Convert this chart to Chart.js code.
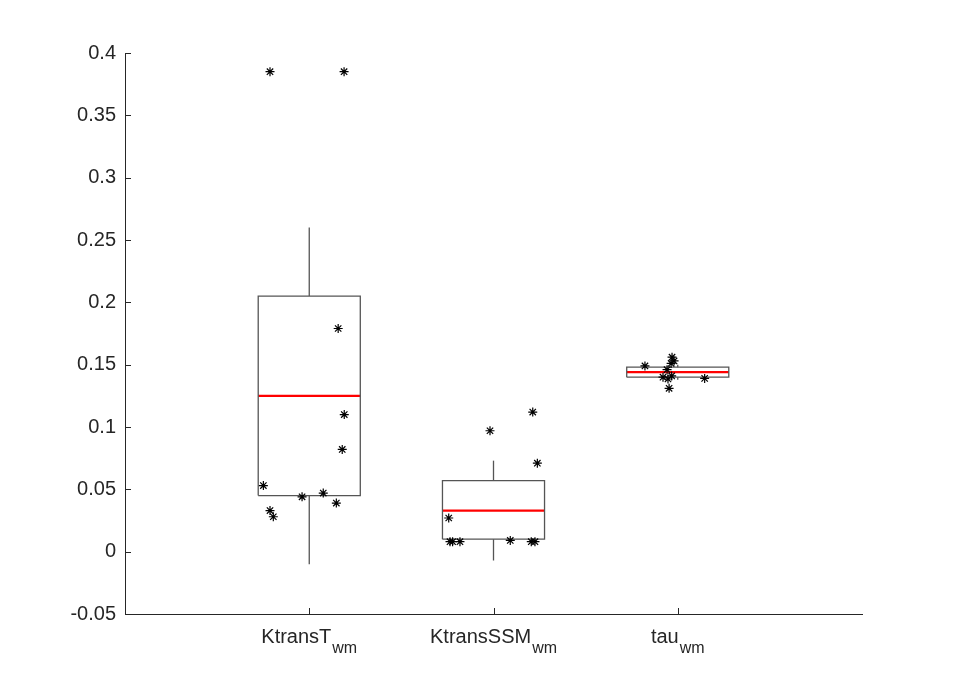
<!DOCTYPE html>
<html>
<head>
<meta charset="utf-8">
<style>
  html, body { margin: 0; padding: 0; background: #fff; }
  #wrap { width: 955px; height: 690px; }
</style>
<script src="https://cdn.jsdelivr.net/npm/chart.js@4"></script>
</head>
<body>
<div id="wrap"><canvas id="boxChart"></canvas></div>
<script>
// categories and labels
const categories = ['KtransT', 'KtransSSM', 'tau'];
const subscripts = ['wm', 'wm', 'wm'];
const categoryPos = [1, 2, 3];

// box statistics
const whiskerLow = [-0.010, -0.007, 0.138];
const q1 = [0.045, 0.010, 0.140];
const medians = [0.125, 0.033, 0.144];
const q3 = [0.205, 0.057, 0.148];
const whiskerHigh = [0.260, 0.073, 0.150];

// jittered raw points
const ktransTX = [0.787, 1.189, 1.157, 1.190, 1.179, 0.751, 0.961, 1.076, 1.147, 0.787, 0.805];
const ktransTY = [0.385, 0.385, 0.179, 0.110, 0.082, 0.053, 0.044, 0.047, 0.039, 0.033, 0.028];
const ktransSSMX = [2.213, 1.981, 2.238, 1.757, 1.764, 1.778, 1.818, 2.091, 2.205, 2.225];
const ktransSSMY = [0.112, 0.097, 0.071, 0.027, 0.008, 0.008, 0.008, 0.009, 0.008, 0.008];
const tauX = [2.822, 2.969, 2.980, 2.964, 2.942, 2.967, 2.920, 2.947, 2.953, 3.146];
const tauY = [0.149, 0.156, 0.153, 0.151, 0.146, 0.141, 0.140, 0.1385, 0.131, 0.139];

const yTicks = [-0.05, 0, 0.05, 0.1, 0.15, 0.2, 0.25, 0.3, 0.35, 0.4];

const halfWidth = 0.277;
const boxColor = '#555555';
const axisColor = '#262626';
const FONT = "'Liberation Sans', Arial, sans-serif";

const toPoints = (xs, ys) => xs.map((x, i) => ({ x, y: ys[i] }));
const allPoints = [
    ...toPoints(ktransTX, ktransTY),
    ...toPoints(ktransSSMX, ktransSSMY),
    ...toPoints(tauX, tauY),
];

const lineDs = (data, color, width) => ({
    type: 'scatter',
    data,
    showLine: true,
    borderColor: color,
    borderWidth: width,
    pointRadius: 0,
    pointHoverRadius: 0,
    fill: false,
    order: 1,
});

const datasets = [{
    type: 'scatter',
    label: 'points',
    data: allPoints,
    pointStyle: 'star',
    pointRadius: 4.5,
    borderColor: '#000',
    backgroundColor: '#000',
    borderWidth: 1.2,
    order: 0,
}];

categoryPos.forEach((c, i) => {
    // box outline
    datasets.push(lineDs([
        { x: c - halfWidth, y: q1[i] }, { x: c + halfWidth, y: q1[i] },
        { x: c + halfWidth, y: q3[i] }, { x: c - halfWidth, y: q3[i] },
        { x: c - halfWidth, y: q1[i] },
    ], boxColor, 1.3));
    // whiskers
    datasets.push(lineDs([{ x: c, y: q3[i] }, { x: c, y: whiskerHigh[i] }], boxColor, 1.3));
    datasets.push(lineDs([{ x: c, y: q1[i] }, { x: c, y: whiskerLow[i] }], boxColor, 1.3));
    // median
    datasets.push(lineDs([{ x: c - halfWidth, y: medians[i] }, { x: c + halfWidth, y: medians[i] }], '#ff0000', 2.2));
});

// inward ticks and subscripted category labels
const axisExtras = {
    id: 'axisExtras',
    afterDraw(chart) {
        const { ctx, chartArea, scales } = chart;
        ctx.save();
        ctx.strokeStyle = axisColor;
        ctx.lineWidth = 1;
        ctx.beginPath();
        yTicks.forEach(v => {
            const y = Math.round(scales.y.getPixelForValue(v)) + 0.5;
            ctx.moveTo(chartArea.left, y);
            ctx.lineTo(chartArea.left + 6, y);
        });
        categoryPos.forEach(c => {
            const x = Math.round(scales.x.getPixelForValue(c)) + 0.5;
            ctx.moveTo(x, chartArea.bottom);
            ctx.lineTo(x, chartArea.bottom - 6);
        });
        ctx.stroke();

        ctx.fillStyle = axisColor;
        ctx.textBaseline = 'alphabetic';
        ctx.textAlign = 'left';
        categories.forEach((name, i) => {
            const cx = scales.x.getPixelForValue(categoryPos[i]);
            ctx.font = '20px ' + FONT;
            const mw = ctx.measureText(name).width;
            ctx.font = '16px ' + FONT;
            const sw = ctx.measureText(subscripts[i]).width;
            const start = cx - (mw + 1 + sw) / 2;
            ctx.font = '20px ' + FONT;
            ctx.fillText(name, start, chartArea.bottom + 29);
            ctx.font = '16px ' + FONT;
            ctx.fillText(subscripts[i], start + mw + 1, chartArea.bottom + 39);
        });
        ctx.restore();
    },
};

new Chart(document.getElementById('boxChart'), {
    type: 'scatter',
    data: { datasets },
    options: {
        responsive: true,
        maintainAspectRatio: false,
        animation: false,
        layout: { padding: { top: 53, right: 93, left: 0, bottom: 0 } },
        plugins: { legend: { display: false }, tooltip: { enabled: false } },
        scales: {
            x: {
                type: 'linear',
                min: 0,
                max: 4,
                afterBuildTicks: s => { s.ticks = categoryPos.map(v => ({ value: v })); },
                ticks: { display: false },
                grid: { drawOnChartArea: false, drawTicks: false },
                border: { display: true, color: axisColor, width: 1 },
                afterFit: s => { s.height = 76; },
            },
            y: {
                type: 'linear',
                min: -0.05,
                max: 0.4,
                afterBuildTicks: s => { s.ticks = yTicks.map(v => ({ value: v })); },
                ticks: {
                    padding: 9,
                    color: axisColor,
                    font: { family: FONT, size: 20 },
                    callback: v => String(+v.toFixed(2)),
                },
                grid: { drawOnChartArea: false, drawTicks: false },
                border: { display: true, color: axisColor, width: 1 },
                afterFit: s => { s.width = 125; },
            },
        },
    },
    plugins: [axisExtras],
});
</script>
</body>
</html>
